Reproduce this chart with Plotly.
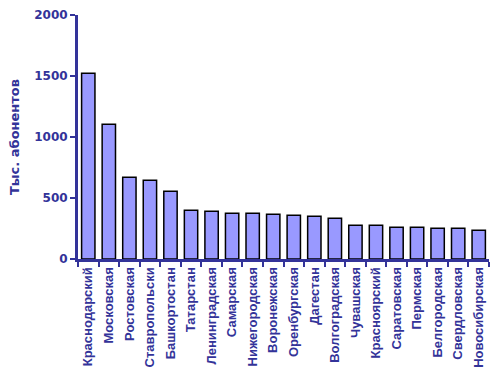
import plotly.graph_objects as go

regions = ["Краснодарский", "Московская", "Ростовская", "Ставропольски", "Башкортостан",
           "Татарстан", "Ленинградская", "Самарская", "Нижегородская", "Воронежская",
           "Оренбургская", "Дагестан", "Волгоградская", "Чувашская", "Красноярский",
           "Саратовская", "Пермская", "Белгородская", "Свердловская", "Новосибирская"]
subscribers = [1522, 1104, 670, 645, 555, 399, 391, 375, 375, 366,
               358, 350, 334, 276, 276, 260, 260, 252, 252, 235]
y_ticks = [0, 500, 1000, 1500, 2000]

navy = "#333399"
fig = go.Figure(go.Bar(
    x=regions, y=subscribers,
    marker=dict(color="#9999FF", line=dict(color="black", width=1.5)),
))
fig.update_layout(
    width=493, height=382,
    margin=dict(l=78, r=4, t=15, b=123, autoexpand=False),
    paper_bgcolor="white", plot_bgcolor="white",
    bargap=0.35, showlegend=False,
    font=dict(family="Liberation Sans, Arial", color=navy),
)
fig.update_xaxes(
    type="category", tickangle=-90, tickson="boundaries",
    ticks="outside", ticklen=5, tickwidth=2, tickcolor=navy,
    showline=True, linecolor=navy, linewidth=3,
    tickfont=dict(size=13, color=navy, family="Liberation Sans, Arial"),
    showgrid=False, automargin=False,
    tickvals=regions, ticktext=[f"<b>{r}</b>" for r in regions],
)
fig.update_yaxes(
    range=[0, 2000], tickvals=y_ticks, ticktext=[f"<b>{v}</b>" for v in y_ticks],
    ticks="outside", ticklen=5, tickwidth=2, tickcolor=navy,
    showline=True, linecolor=navy, linewidth=3,
    tickfont=dict(size=12, color=navy, family="DejaVu Sans"),
    showgrid=False, zeroline=False, automargin=False,
    title=dict(text="<b>Тыс. абонентов</b>", font=dict(size=13, color=navy, family="DejaVu Sans"), standoff=12),
)
fig.write_html("out.html", config={"displayModeBar": False},
               post_script="document.body.style.margin='0';document.body.style.padding='0';")
